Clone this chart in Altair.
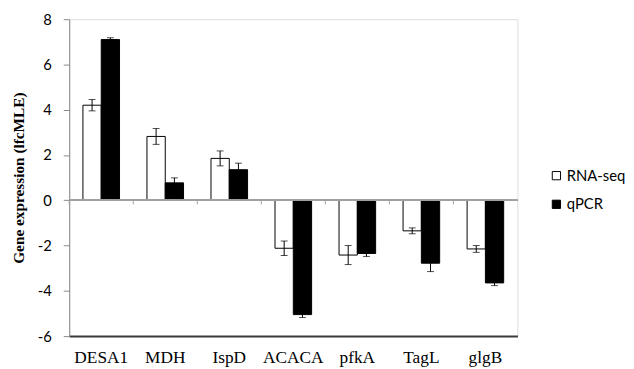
import altair as alt
import pandas as pd

genes = ["DESA1", "MDH", "IspD", "ACACA", "pfkA", "TagL", "glgB"]
series = ["RNA-seq", "qPCR"]
rna = [4.2, 2.82, 1.85, -2.12, -2.42, -1.35, -2.15]
rna_err = [0.25, 0.35, 0.33, 0.32, 0.42, 0.13, 0.15]
qpcr = [7.1, 0.77, 1.35, -5.05, -2.35, -2.78, -3.65]
qpcr_err = [0.08, 0.22, 0.29, 0.13, 0.13, 0.37, 0.12]
y_ticks = [-6, -4, -2, 0, 2, 4, 6, 8]

rows = []
for g, v, e in zip(genes, rna, rna_err):
    rows.append({"gene": g, "series": "RNA-seq", "value": v, "lo": v - e, "hi": v + e})
for g, v, e in zip(genes, qpcr, qpcr_err):
    rows.append({"gene": g, "series": "qPCR", "value": v, "lo": v - e, "hi": v + e})
df = pd.DataFrame(rows)
gdf = pd.DataFrame({"gene": genes})

xscale = alt.Scale(domain=genes, paddingInner=0, paddingOuter=0)
xoff_scale = alt.Scale(domain=series, paddingInner=0, paddingOuter=0.75)
yscale = alt.Scale(domain=[-6, 8], nice=False, zero=False)

x_axis = alt.Axis(
    title=None, labelAngle=0, labelFont="Liberation Serif", labelFontSize=17.5,
    labelColor="black", labelPadding=13, ticks=False, domain=True,
    domainColor="#3a3a3a", domainWidth=2,
)
y_axis = alt.Axis(
    title="Gene expression (lfcMLE)", values=y_ticks, grid=False,
    ticks=True, tickSize=6, tickColor="#888888", tickWidth=1,
    labelExpr="datum.value < 0 ? '-' + abs(datum.value) : '' + datum.value",
    labelFont="Lato", labelFontSize=15, labelColor="black", labelPadding=12,
    domainColor="#888888", domainWidth=1,
    titleFont="Liberation Serif", titleFontSize=15.5, titleFontWeight="bold",
    titleColor="black", titleX=-43, titleY=160.5, titleAlign="center",
)

base = alt.Chart(df)

bars = base.mark_bar(stroke="black", strokeWidth=1).encode(
    x=alt.X("gene:N", scale=xscale, axis=x_axis, sort=genes),
    xOffset=alt.XOffset("series:N", scale=xoff_scale, sort=series),
    y=alt.Y("value:Q", scale=yscale, axis=y_axis),
    fill=alt.Fill(
        "series:N",
        scale=alt.Scale(domain=series, range=["white", "black"]),
        legend=alt.Legend(
            title=None, orient="none", legendX=486, legendY=151,
            symbolType="square", symbolSize=70, symbolStrokeColor="black",
            symbolStrokeWidth=1, labelFont="Lato", labelFontSize=15,
            labelColor="black", rowPadding=13, labelOffset=3,
        ),
    ),
)

err = base.mark_rule(color="black", strokeWidth=1).encode(
    x=alt.X("gene:N", scale=xscale, sort=genes),
    xOffset=alt.XOffset("series:N", scale=xoff_scale, sort=series),
    y=alt.Y("lo:Q", scale=yscale),
    y2="hi:Q",
)
cap_lo = base.mark_tick(color="black", thickness=1, size=7).encode(
    x=alt.X("gene:N", scale=xscale, sort=genes),
    xOffset=alt.XOffset("series:N", scale=xoff_scale, sort=series),
    y=alt.Y("lo:Q", scale=yscale),
)
cap_hi = base.mark_tick(color="black", thickness=1, size=7).encode(
    x=alt.X("gene:N", scale=xscale, sort=genes),
    xOffset=alt.XOffset("series:N", scale=xoff_scale, sort=series),
    y=alt.Y("hi:Q", scale=yscale),
)

zero = alt.Chart(gdf).mark_rule(color="#a0a0a0", strokeWidth=1.5).encode(
    y=alt.datum(0, scale=yscale),
)
bticks = alt.Chart(gdf).mark_rule(color="#a0a0a0", strokeWidth=1).encode(
    x=alt.X("gene:N", scale=xscale, sort=genes, bandPosition=0),
    y=alt.datum(0),
    y2=alt.datum(-0.18),
)

chart = alt.layer(bars, zero, bticks, err, cap_lo, cap_hi).properties(
    width=454, height=321,
    autosize=alt.AutoSizeParams(type="none"),
    padding={"left": 62, "top": 9, "right": 110, "bottom": 31},
).configure_view(stroke="black", strokeWidth=1).configure(background="white")

chart.save("out.html", embed_options={"renderer": "svg", "actions": False})
